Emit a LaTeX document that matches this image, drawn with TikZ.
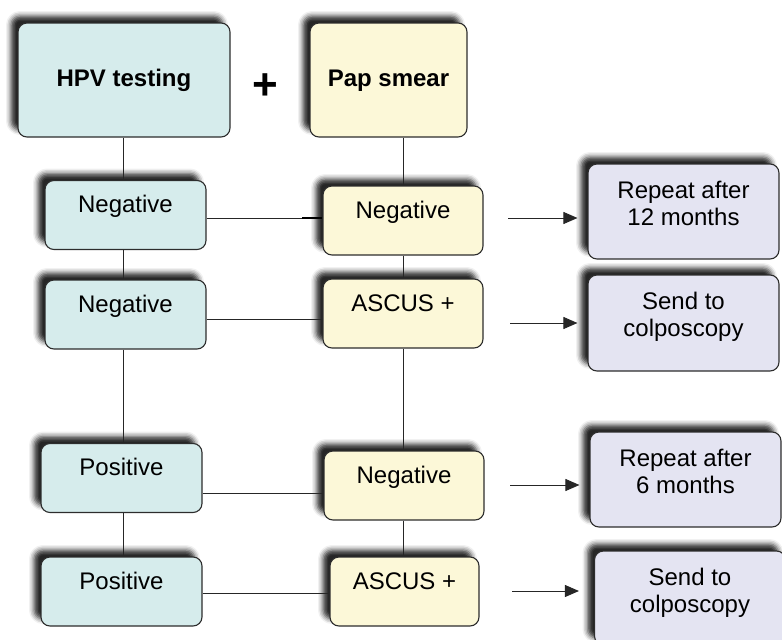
\documentclass[tikz,border=0pt]{standalone}
\usepackage{fontspec}
\setmainfont{Liberation Sans}
\usetikzlibrary{arrows.meta,shadows.blur}

\definecolor{hpvfill}{RGB}{214,236,236}
\definecolor{papfill}{RGB}{252,248,216}
\definecolor{advfill}{RGB}{228,228,242}
\definecolor{edge}{RGB}{45,45,45}

\begin{document}
\begin{tikzpicture}[x=1pt,y=1pt,
  box/.style={draw=edge,line width=1.1pt,rounded corners=9pt,inner sep=0pt,
    blur shadow={shadow xshift=-7pt,shadow yshift=7pt,shadow blur radius=5pt,shadow opacity=85}},
  head/.style={box,minimum width=#1,font=\fontsize{24}{27}\selectfont\bfseries,
    text height=63.5pt,text depth=50.5pt},
  res/.style={box,minimum width=#1,font=\fontsize{24}{27}\selectfont,
    text height=32pt,text depth=37pt},
  adv/.style={box,fill=advfill,minimum width=191pt,align=center,
    font=\fontsize{24}{27}\selectfont,text height=61.5pt,text depth=#1},
  link/.style={draw=black!85,line width=0.9pt},
  arr/.style={link,-{Triangle[length=14pt,width=12pt]}}]
\useasboundingbox (0,0) rectangle (782,-640);
\coordinate (lv) at (123,0);
\coordinate (rv) at (403,0);

% the two tests
\node [head=212pt,fill=hpvfill] (hpv) at (124,-80) {HPV testing};
\node [head=157pt,fill=papfill] (pap) at (388.5,-80) {Pap smear};
\node [font=\fontsize{44}{44}\selectfont\bfseries] (plus) at (265.7,-87) {+};

% HPV results
\node [res=161pt,fill=hpvfill] (t1) at (125.5,-215) {Negative};
\node [res=161pt,fill=hpvfill] (t2) at (125.5,-314.5) {Negative};
\node [res=161pt,fill=hpvfill] (t3) at (121.5,-478) {Positive};
\node [res=161pt,fill=hpvfill] (t4) at (121.5,-591.5) {Positive};

% Pap results
\node [res=160pt,fill=papfill] (y1) at (403,-220.5) {Negative};
\node [res=160pt,fill=papfill] (y2) at (403,-313.5) {ASCUS +};
\node [res=160pt,fill=papfill] (y3) at (404,-485.5) {Negative};
\node [res=149pt,fill=papfill] (y4) at (404.5,-591.5) {ASCUS +};

% what to do next
\node [adv=33.5pt] (l1) at (683.5,-211.5) {Repeat after\\12 months};
\node [adv=34.5pt] (l2) at (683.5,-323) {Send to\\colposcopy};
\node [adv=33.5pt] (l3) at (685.5,-479.5) {Repeat after\\6 months};
\node [adv=32.5pt] (l4) at (690,-598) {Send to\\colposcopy};

% vertical chains
\draw [link] (hpv.south -| lv) -- (t1.north -| lv);
\draw [link] (t1.south -| lv) -- (t2.north -| lv);
\draw [link] (t2.south -| lv) -- (t3.north -| lv);
\draw [link] (t3.south -| lv) -- (t4.north -| lv);
\draw [link] (pap.south -| rv) -- (y1.north -| rv);
\draw [link] (y1.south -| rv) -- (y2.north -| rv);
\draw [link] (y2.south -| rv) -- (y3.north -| rv);
\draw [link] (y3.south -| rv) -- (y4.north -| rv);

% pairs
\draw [link] ([yshift=-3pt]t1.east) -- ([yshift=-3pt]t1.east -| y1.west);
\draw [line width=2pt] ([yshift=-3pt,xshift=-20pt]t1.east -| y1.west) -- ([yshift=-3pt]t1.east -| y1.west);
\draw [link] ([yshift=-4.5pt]t2.east) -- ([yshift=-4.5pt]t2.east -| y2.west);
\draw [link] ([yshift=-15pt]t3.east) -- ([yshift=-15pt]t3.east -| y3.west);
\draw [link] ([yshift=-1.5pt]t4.east) -- ([yshift=-1.5pt]t4.east -| y4.west);

% arrows to the advice
\coordinate (a1) at (508,-218);
\coordinate (a2) at (510,-323);
\coordinate (a3) at (510,-485);
\coordinate (a4) at (512,-591);
\draw [arr] (a1) -- ([xshift=-10pt]l1.west |- a1);
\draw [arr] (a2) -- ([xshift=-10pt]l2.west |- a2);
\draw [arr] (a3) -- ([xshift=-10pt]l3.west |- a3);
\draw [arr] (a4) -- ([xshift=-15pt]l4.west |- a4);
\end{tikzpicture}
\end{document}
